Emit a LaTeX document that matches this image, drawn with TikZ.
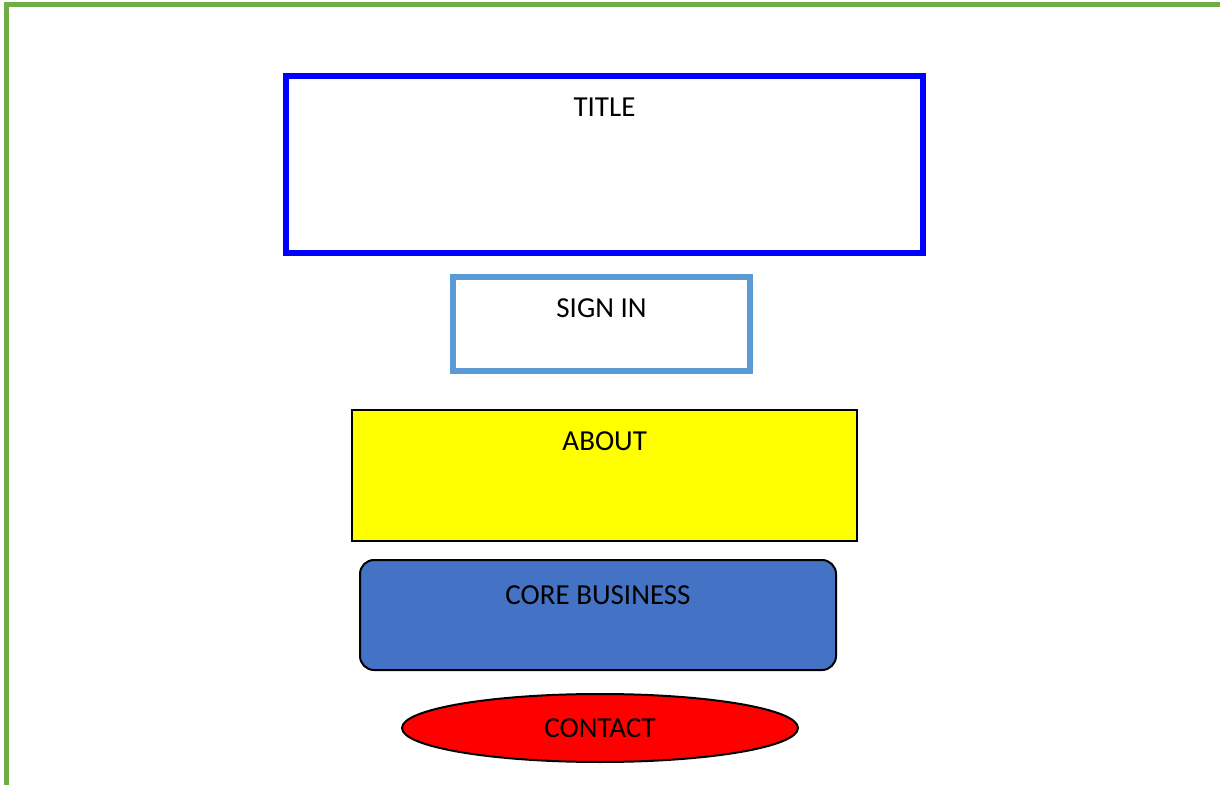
\documentclass[tikz,border=0pt]{standalone}
\usepackage{fontspec}
\setmainfont{Carlito}
\usetikzlibrary{shapes.geometric,positioning}
\definecolor{framegreen}{HTML}{70AD47}
\definecolor{signblue}{HTML}{5B9BD5}
\definecolor{coreblue}{HTML}{4472C4}
\definecolor{aboutyellow}{HTML}{FFFF00}
\definecolor{contactred}{HTML}{FF0000}
\tikzset{page box/.style={rectangle,draw,inner sep=0pt},
         box text/.style={rectangle,draw=none,fill=none,inner sep=0pt,font=\fontsize{14.5}{17}\selectfont},
         contact node/.style={ellipse,draw,fill=contactred,line width=1pt,inner sep=0pt,font=\fontsize{14.5}{17}\selectfont}
}
\begin{document}
\begin{tikzpicture}[x=0.5pt,y=-0.5pt]
\useasboundingbox (0,0) rectangle (1220,785);
\draw [framegreen,line width=2.3pt] (6.3,785) -- (6.3,4.7) -- (1220,4.7);
\node [page box,draw=blue,line width=3pt,minimum width=318.5pt,minimum height=88.7pt] (title) at (604.5,164.4) {};
\node [page box,draw=signblue,line width=3pt,minimum width=148.5pt,minimum height=47pt] (signin) at (601.5,324) {};
\node [page box,fill=aboutyellow,line width=1pt,minimum width=252.75pt,minimum height=65.5pt] (about) at (604.7,475.5) {};
\node [page box,fill=coreblue,line width=1pt,rounded corners=7pt,minimum width=238pt,minimum height=55pt] (core) at (598,615) {};
\node [contact node,minimum width=198pt,minimum height=34pt] (contact) at (600,728) {\raisebox{-1pt}{CONTACT}};
\node [box text,below=12.3pt of title.north] (titletext) {TITLE};
\node [box text,below=12.3pt of signin.north] (signintext) {SIGN IN};
\node [box text,below=11.3pt of about.north] (abouttext) {ABOUT};
\node [box text,below=13pt of core.north] (coretext) {CORE BUSINESS};
\end{tikzpicture}
\end{document}
